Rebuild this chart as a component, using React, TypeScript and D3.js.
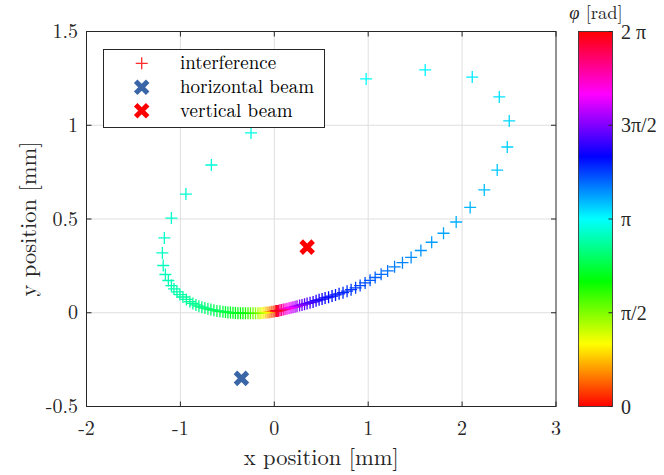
import React from 'react';
import * as d3 from 'd3';

// ---- data ----
const xTicks = [-2, -1, 0, 1, 2, 3];
const yTicks = [-0.5, 0, 0.5, 1, 1.5];
const phaseTicks = [0, Math.PI / 2, Math.PI, (3 * Math.PI) / 2, 2 * Math.PI];
const phaseTickLabels = ['0', 'π/2', 'π', '3π/2', '2 π'];

const interferenceX = [
  0.018, -0.003, -0.025, -0.046, -0.067, -0.088, -0.11, -0.131, -0.152, -0.174,
  -0.2, -0.227, -0.254, -0.28, -0.307, -0.334, -0.36, -0.387, -0.414, -0.44,
  -0.467, -0.494, -0.52, -0.547, -0.579, -0.611, -0.643, -0.675, -0.707, -0.739,
  -0.771, -0.803, -0.835, -0.867, -0.899,
  -0.936, -0.973, -1.005, -1.037, -1.069, -1.096, -1.128, -1.16, -1.183, -1.192, -1.171,
  -1.096, -0.941, -0.67, -0.248, 0.338, 0.978, 1.607, 2.108, 2.396, 2.502, 2.481, 2.374, 2.236, 2.086,
  1.937, 1.802, 1.676, 1.561, 1.457, 1.365, 1.281, 1.207, 1.138, 1.074,
  1.02, 0.967, 0.914, 0.866, 0.818, 0.775, 0.732, 0.69, 0.652, 0.615,
  0.578, 0.541, 0.509, 0.477, 0.445, 0.413, 0.381, 0.349, 0.322, 0.295,
  0.269, 0.242, 0.221, 0.199, 0.178, 0.157, 0.135, 0.114, 0.095, 0.077,
  0.061, 0.046, 0.032, 0.02,
];
const interferenceY = [
  0.009, 0.007, 0.005, 0.003, 0.002, 0.001, 0.0, -0.001, -0.002, -0.002,
  -0.003, -0.003, -0.003, -0.003, -0.003, -0.003, -0.002, -0.002, -0.001, 0.0,
  0.001, 0.002, 0.004, 0.006, 0.008, 0.01, 0.014, 0.017, 0.021, 0.025,
  0.03, 0.035, 0.042, 0.05, 0.059,
  0.071, 0.084, 0.097, 0.111, 0.127, 0.145, 0.172, 0.204, 0.252, 0.319, 0.399,
  0.505, 0.633, 0.788, 0.959, 1.135, 1.247, 1.295, 1.257, 1.151, 1.023, 0.884, 0.761, 0.655, 0.562,
  0.484, 0.424, 0.376, 0.332, 0.295, 0.267, 0.245, 0.223, 0.205, 0.188,
  0.173, 0.159, 0.145, 0.133, 0.123, 0.115, 0.107, 0.101, 0.095, 0.089,
  0.083, 0.079, 0.073, 0.069, 0.064, 0.058, 0.054, 0.05, 0.046, 0.042,
  0.039, 0.035, 0.032, 0.03, 0.027, 0.024, 0.022, 0.019, 0.017, 0.015,
  0.013, 0.011, 0.01, 0.01,
];
const interferencePhase = [
  0.03, 0.17, 0.31, 0.47, 0.63, 0.79, 0.96, 1.08, 1.22, 1.36,
  1.5, 1.62, 1.75, 1.85, 1.95, 2.04, 2.09, 2.15, 2.18, 2.22,
  2.25, 2.29, 2.32, 2.36, 2.39, 2.43, 2.46, 2.5, 2.53, 2.57,
  2.6, 2.64, 2.67, 2.71, 2.72,
  2.74, 2.76, 2.78, 2.79, 2.81, 2.83, 2.84, 2.86, 2.88, 2.9, 2.91,
  2.93, 2.95, 2.98, 3.02, 3.07, 3.12, 3.18, 3.23, 3.26, 3.3, 3.33, 3.37, 3.4, 3.44,
  3.47, 3.51, 3.54, 3.58, 3.61, 3.65, 3.68, 3.72, 3.75, 3.79,
  3.82, 3.86, 3.89, 3.93, 3.96, 4.0, 4.03, 4.07, 4.1, 4.14,
  4.17, 4.21, 4.24, 4.28, 4.33, 4.38, 4.43, 4.5, 4.57, 4.64,
  4.73, 4.82, 4.9, 5.01, 5.11, 5.22, 5.32, 5.43, 5.55, 5.67,
  5.79, 5.93, 6.07, 6.2,
];

const horizontalBeam = { x: -0.35, y: -0.35 };
const verticalBeam = { x: 0.35, y: 0.35 };
const legendLabels = ['interference', 'horizontal beam', 'vertical beam'];

const FONT = '"Latin Modern Roman", monospace';
const GREEK = '"Liberation Serif", monospace';
const INK = '#262626';
const tStyle = { fontFamily: FONT };
const gStyle = { fontFamily: GREEK };

const hsvColor = (phi: number) =>
  d3.hsl(((phi / (2 * Math.PI)) * 360) % 360, 1, 0.5).formatHex();

const plusPath = (cx: number, cy: number, r: number) =>
  `M${cx - r},${cy}H${cx + r}M${cx},${cy - r}V${cy + r}`;
const xPath = (cx: number, cy: number, r: number) =>
  `M${cx - r},${cy - r}L${cx + r},${cy + r}M${cx - r},${cy + r}L${cx + r},${cy - r}`;

export default function App() {
  const W = 664;
  const H = 475;
  const L = 86.5, R = 556, T = 31.5, B = 406.5;
  const x = d3.scaleLinear().domain([-2, 3]).range([L, R]);
  const y = d3.scaleLinear().domain([-0.5, 1.5]).range([B, T]);
  const cb = d3.scaleLinear().domain([0, 2 * Math.PI]).range([B, T]);
  const cbL = 578.5, cbR = 612.5;

  const stops = d3.range(0, 37).map((i) => ({
    offset: i / 36,
    color: d3.hsl((i * 10) % 360, 1, 0.5).formatHex(),
  }));

  const pts = interferenceX.map((vx, i) => ({
    x: vx,
    y: interferenceY[i],
    p: interferencePhase[i],
  }));

  const legendX = 103.5, legendY = 49.5, legendW = 221, legendH = 78;
  const rowY = [63.3, 87.3, 110.7];

  return (
    <svg
      width={W}
      height={H}
      style={{ position: 'absolute', left: 0, top: 0, background: '#fff' }}
    >
      <defs>
        <linearGradient id="hsvGrad" x1="0" y1="1" x2="0" y2="0">
          {stops.map((s, i) => (
            <stop key={i} offset={s.offset} stopColor={s.color} />
          ))}
        </linearGradient>
      </defs>
      <rect x={0} y={0} width={W} height={H} fill="#fff" />
      <rect x={L} y={T} width={R - L} height={B - T} fill="#fff" />

      {/* grid */}
      {xTicks.slice(1, -1).map((t) => (
        <line key={'gx' + t} x1={x(t)} x2={x(t)} y1={T} y2={B} stroke="#dfdfdf" strokeWidth={1} />
      ))}
      {yTicks.slice(1, -1).map((t) => (
        <line key={'gy' + t} x1={L} x2={R} y1={y(t)} y2={y(t)} stroke="#dfdfdf" strokeWidth={1} />
      ))}

      {/* interference points */}
      {pts.map((d, i) => (
        <path
          key={'p' + i}
          d={plusPath(x(d.x), y(d.y), 6)}
          stroke={hsvColor(d.p)}
          strokeWidth={1.3}
          fill="none"
        />
      ))}

      {/* beams */}
      <path
        d={xPath(x(horizontalBeam.x), y(horizontalBeam.y), 6)}
        stroke="#3a66a8"
        strokeWidth={5}
        fill="none"
      />
      <path
        d={xPath(x(verticalBeam.x), y(verticalBeam.y), 6)}
        stroke="#ff0000"
        strokeWidth={5}
        fill="none"
      />

      {/* axes box */}
      <rect x={L} y={T} width={R - L} height={B - T} fill="none" stroke={INK} strokeWidth={1} />
      {xTicks.map((t) => (
        <g key={'xt' + t}>
          <line x1={x(t)} x2={x(t)} y1={B} y2={B - 5} stroke={INK} />
          <line x1={x(t)} x2={x(t)} y1={T} y2={T + 5} stroke={INK} />
          <text x={x(t)} y={434.5} textAnchor="middle" fontSize={20} fill={INK} style={tStyle}>
            {t < 0 ? '-' + Math.abs(t) : String(t)}
          </text>
        </g>
      ))}
      {yTicks.map((t) => (
        <g key={'yt' + t}>
          <line x1={L} x2={L + 5} y1={y(t)} y2={y(t)} stroke={INK} />
          <line x1={R} x2={R - 5} y1={y(t)} y2={y(t)} stroke={INK} />
          <text x={78} y={y(t) + 6.5} textAnchor="end" fontSize={20} fill={INK} style={tStyle}>
            {t < 0 ? '-' + Math.abs(t) : String(t)}
          </text>
        </g>
      ))}
      <text x={(L + R) / 2} y={465} textAnchor="middle" fontSize={22.5} fill={INK} style={tStyle}>
        x position [mm]
      </text>
      <text
        transform={`translate(36,${(T + B) / 2}) rotate(-90)`}
        textAnchor="middle"
        fontSize={22.5}
        fill={INK}
        style={tStyle}
      >
        y position [mm]
      </text>

      {/* legend */}
      <rect x={legendX} y={legendY} width={legendW} height={legendH} fill="#fff" stroke={INK} strokeWidth={1} />
      <path d={plusPath(141.7, rowY[0], 6)} stroke="#ff2a2a" strokeWidth={1.3} fill="none" />
      <path d={xPath(141.7, rowY[1], 6)} stroke="#3a66a8" strokeWidth={5} fill="none" />
      <path d={xPath(141.7, rowY[2], 6)} stroke="#ff0000" strokeWidth={5} fill="none" />
      {legendLabels.map((lab, i) => (
        <text key={lab} x={180} y={rowY[i] + 6} fontSize={19} fill="#000" style={tStyle}>
          {lab}
        </text>
      ))}

      {/* colorbar */}
      <rect x={cbL} y={T} width={cbR - cbL} height={B - T} fill="url(#hsvGrad)" stroke={INK} strokeWidth={0.8} />
      {phaseTicks.map((t, i) => (
        <g key={'ct' + i}>
          <line x1={cbR} x2={cbR - 4} y1={cb(t)} y2={cb(t)} stroke={INK} />
          <text x={621} y={cb(t) + 7} fontSize={20} fill={INK} style={gStyle}>
            {phaseTickLabels[i]}
          </text>
        </g>
      ))}
      <text x={596} y={19} textAnchor="middle" fontSize={18.5} fill={INK} style={tStyle}>
        <tspan fontStyle="italic" style={gStyle}>φ</tspan> [rad]
      </text>
    </svg>
  );
}
